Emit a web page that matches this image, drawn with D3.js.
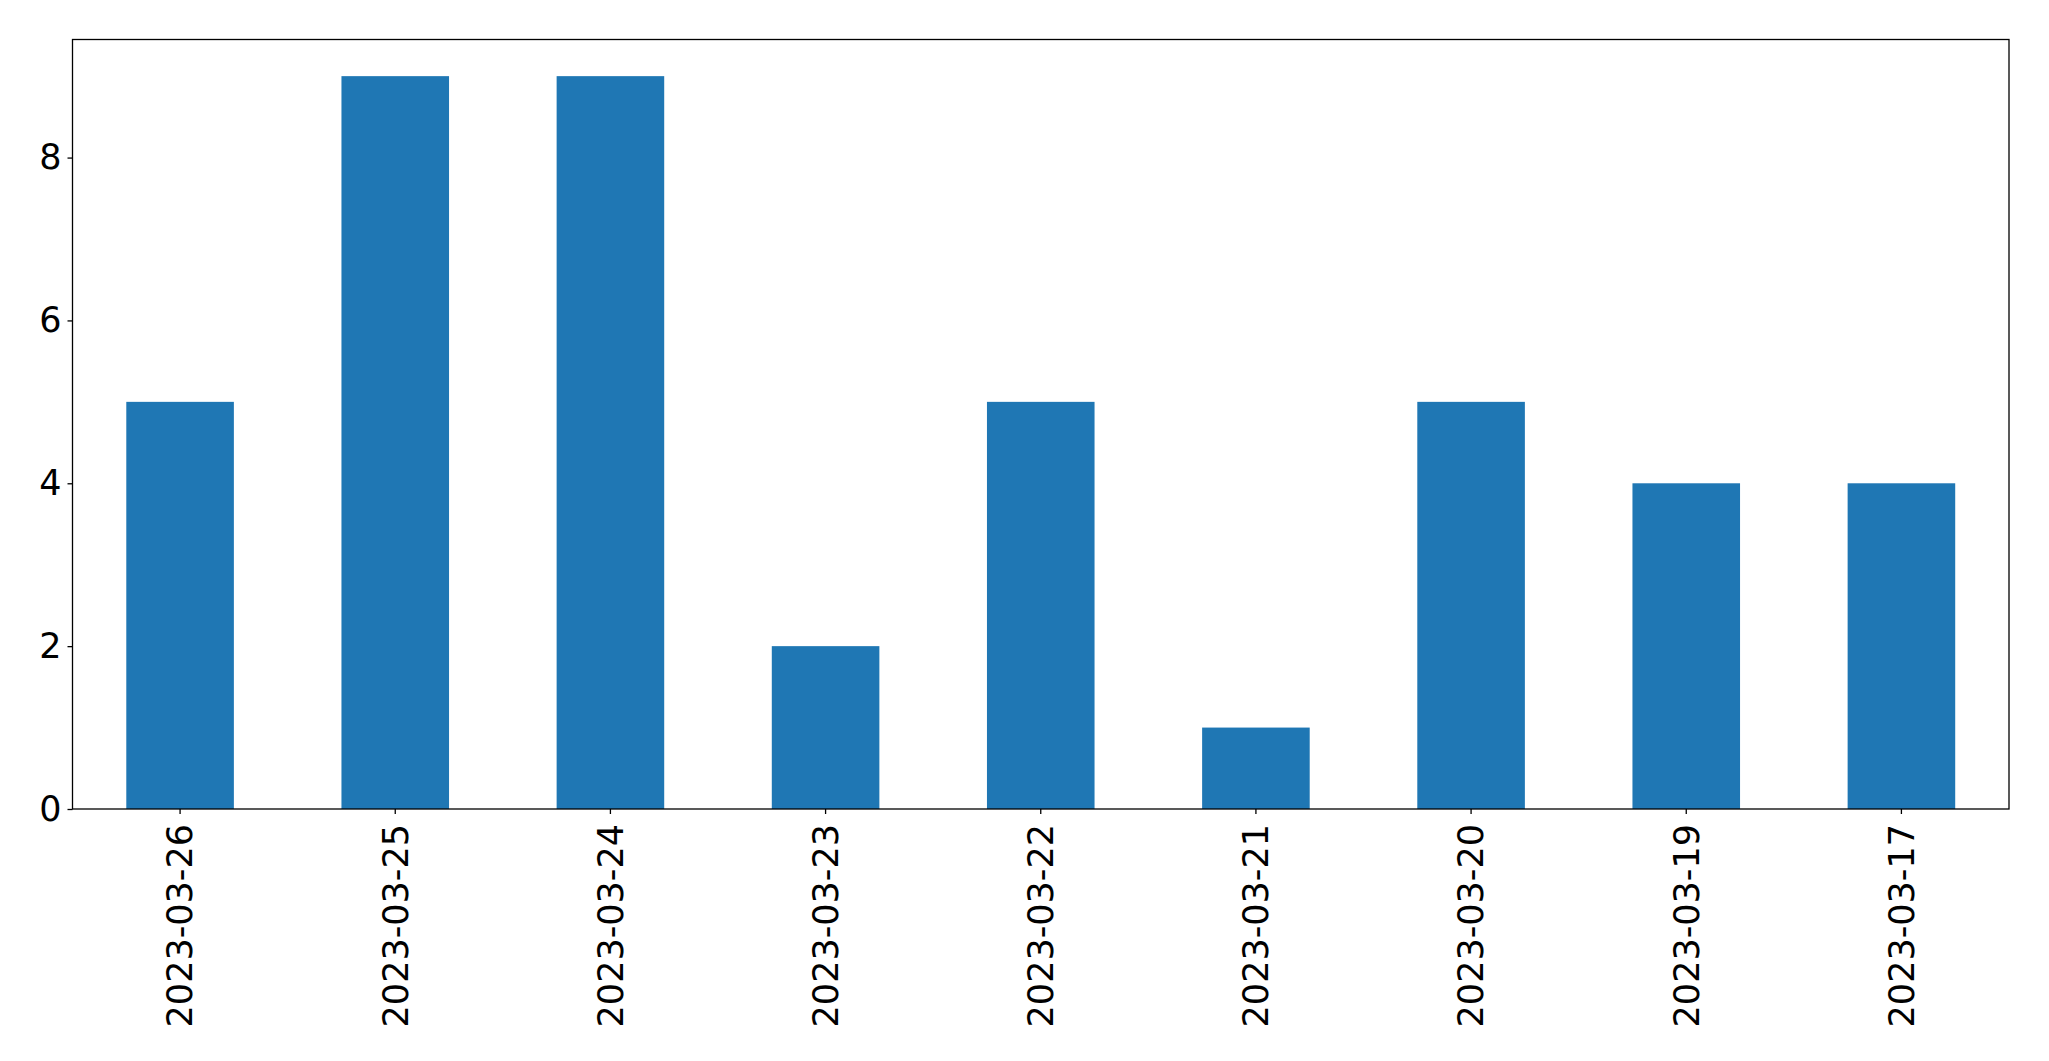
<!DOCTYPE html>
<html>
<head>
<meta charset="utf-8">
<script src="https://cdn.jsdelivr.net/npm/d3@7"></script>
<style>
  html, body { margin: 0; padding: 0; background: #fff; }
  svg { display: block; }
</style>
</head>
<body>
<svg id="chart" width="2049" height="1061"></svg>
<script>
const categories = ["2023-03-26","2023-03-25","2023-03-24","2023-03-23","2023-03-22","2023-03-21","2023-03-20","2023-03-19","2023-03-17"];
const values = [5, 9, 9, 2, 5, 1, 5, 4, 4];
const yTicks = [0, 2, 4, 6, 8];

const svg = d3.select("#chart");
const margin = { left: 72.5, right: 2049 - 2009, top: 39.5, bottom: 1061 - 809 };
const W = 2049, H = 1061;
const iw = W - margin.left - margin.right;
const ih = H - margin.top - margin.bottom;

const g = svg.append("g").attr("transform", `translate(${margin.left},${margin.top})`);

const x = d3.scaleBand().domain(categories).range([0, iw]).paddingInner(0.5).paddingOuter(0.25);
const y = d3.scaleLinear().domain([0, d3.max(values) * 1.05]).range([ih, 0]);

g.selectAll("rect.bar").data(values).enter().append("rect")
  .attr("class", "bar")
  .attr("x", (d, i) => x(categories[i]))
  .attr("width", x.bandwidth())
  .attr("y", d => y(d))
  .attr("height", d => ih - y(d))
  .attr("fill", "#1f77b4");

const font = "DejaVu Sans, sans-serif";
const fs = 35;

const yAxis = g.append("g").call(d3.axisLeft(y).tickValues(yTicks).tickFormat(d3.format("d")).tickSize(5).tickPadding(6));
yAxis.select(".domain").remove();
yAxis.selectAll("text").attr("font-family", font).attr("font-size", fs).attr("fill", "#000");
yAxis.selectAll("line").attr("stroke", "#000").attr("stroke-width", 1.3);

const xAxis = g.append("g").attr("transform", `translate(0,${ih})`)
  .call(d3.axisBottom(x).tickSize(5).tickPadding(10));
xAxis.select(".domain").remove();
xAxis.selectAll("line").attr("stroke", "#000").attr("stroke-width", 1.3);
xAxis.selectAll("text")
  .attr("font-family", font).attr("font-size", fs).attr("fill", "#000")
  .attr("text-anchor", "end")
  .attr("transform", "rotate(-90)")
  .attr("x", -15).attr("y", 0).attr("dy", "0.35em");

g.append("rect").attr("x", 0).attr("y", 0).attr("width", iw).attr("height", ih)
  .attr("fill", "none").attr("stroke", "#000").attr("stroke-width", 1.3);
</script>
</body>
</html>
